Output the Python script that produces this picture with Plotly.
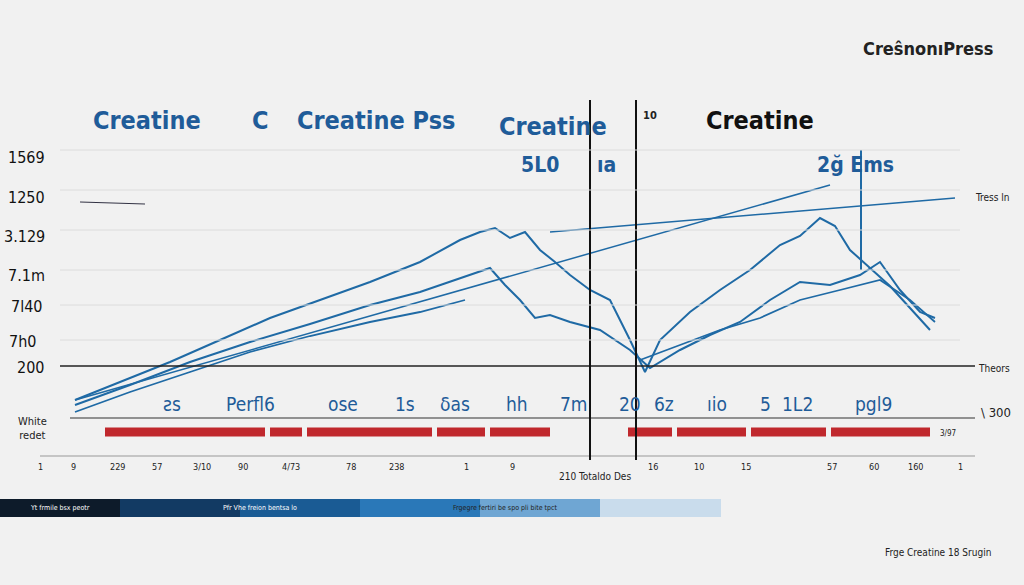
import plotly.graph_objects as go

# canvas-like coordinates (x: 0..1024, y: 0..585 downward)
trend_x = [75, 830]
trend_y = [400, 185]
trend2_x = [550, 955]
trend2_y = [232, 198]

a_x = [75, 120, 170, 220, 270, 320, 370, 420, 460, 480, 495, 510, 525, 540, 555, 570, 590, 610, 630, 645, 660, 690, 720, 750, 780, 800, 820, 835, 850, 870, 890, 910, 930]
a_y = [400, 382, 362, 340, 318, 300, 282, 262, 240, 232, 228, 238, 232, 250, 262, 275, 290, 300, 340, 372, 340, 312, 290, 270, 245, 236, 218, 226, 250, 268, 286, 308, 330]
b_x = [75, 130, 190, 250, 310, 370, 420, 460, 490, 505, 520, 535, 550, 570, 600, 630, 650, 680, 710, 740, 770, 800, 830, 860, 880, 900, 920, 935]
b_y = [405, 385, 362, 342, 324, 305, 292, 278, 268, 285, 300, 318, 315, 322, 330, 350, 368, 350, 335, 322, 300, 282, 285, 275, 262, 290, 312, 318]
c_x = [75, 130, 190, 250, 310, 370, 420, 465]
c_y = [412, 392, 372, 352, 336, 322, 312, 300]
d_x = [640, 680, 720, 760, 800, 840, 880, 910, 935]
d_y = [360, 345, 330, 318, 300, 290, 280, 300, 322]

red_segments = [(105, 265), (270, 302), (307, 432), (437, 485), (490, 550), (628, 672), (677, 746), (751, 826), (831, 930)]

top_labels = [("Creatine", 147, 120, 25, "#1f5c99"), ("C", 260, 120, 25, "#1f5c99"),
              ("Creatine Pss", 376, 120, 25, "#1f5c99"), ("Creatine", 553, 126, 25, "#1f5c99"),
              ("Creatine", 760, 120, 25, "#111111"), ("5L0", 540, 165, 21, "#1f5c99"),
              ("ıa", 606, 165, 21, "#1f5c99"), ("2ğ Ems", 855, 165, 21, "#1f5c99"),
              ("CreŝnonıPress", 928, 48, 18, "#222222"), ("10", 650, 115, 11, "#222222")]
left_labels = [("1569", 26, 157), ("1250", 26, 197), ("3.129", 24, 236), ("7.1m", 26, 275),
               ("7l40", 26, 306), ("7h0", 22, 341), ("200", 30, 367)]
mid_labels = [("ƨs", 172, 404), ("Perfl6", 250, 404), ("ose", 343, 404), ("1s", 405, 404),
              ("δas", 455, 404), ("hh", 517, 404), ("7m", 574, 404), ("20", 630, 404),
              ("6z", 664, 404), ("ıio", 717, 404), ("5", 765, 404), ("1L2", 797, 404), ("pgl9", 873, 404)]
tick_labels = [("1", 40, 467), ("9", 73, 467), ("229", 117, 467), ("57", 157, 467), ("3/10", 202, 467),
               ("90", 243, 467), ("4/73", 291, 467), ("78", 351, 467), ("238", 396, 467), ("1", 466, 467),
               ("9", 512, 467), ("16", 653, 467), ("10", 699, 467), ("15", 746, 467), ("57", 832, 467),
               ("60", 874, 467), ("160", 915, 467), ("1", 960, 467)]

FONT = "Liberation Sans Narrow, Arial Narrow, DejaVu Sans Condensed, sans-serif"

fig = go.Figure()
for sx, sy, w in [(trend_x, trend_y, 1.5), (trend2_x, trend2_y, 1.5), (a_x, a_y, 2), (b_x, b_y, 2), (c_x, c_y, 1.8), (d_x, d_y, 1.8)]:
    fig.add_trace(go.Scatter(x=sx, y=sy, mode="lines", line=dict(color="#1f6aa5", width=w), hoverinfo="skip"))
for x0, x1 in red_segments:
    fig.add_trace(go.Scatter(x=[x0, x1], y=[432, 432], mode="lines", line=dict(color="#c0282d", width=9), hoverinfo="skip"))
fig.add_trace(go.Scatter(x=[80, 145], y=[202, 204], mode="lines", line=dict(color="#334", width=1.2), hoverinfo="skip"))

shapes = [
    dict(type="line", x0=60, x1=975, y0=366, y1=366, line=dict(color="#222", width=1.5)),
    dict(type="line", x0=70, x1=975, y0=418, y1=418, line=dict(color="#333", width=1.2)),
    dict(type="line", x0=40, x1=975, y0=456, y1=456, line=dict(color="#999", width=1)),
    dict(type="line", x0=590, x1=590, y0=100, y1=460, line=dict(color="#111", width=2)),
    dict(type="line", x0=636, x1=636, y0=100, y1=460, line=dict(color="#111", width=2)),
    dict(type="line", x0=861, x1=861, y0=150, y1=270, line=dict(color="#1f6aa5", width=2)),
]
for y in [150, 190, 230, 270, 305, 340]:
    shapes.append(dict(type="line", x0=60, x1=960, y0=y, y1=y, line=dict(color="#dcdcdc", width=1)))
band = ["#0d1b2a", "#123a63", "#1a5b94", "#2a78b8", "#6fa6d3", "#c9dcec"]
for i, c in enumerate(band):
    shapes.append(dict(type="rect", x0=i * 120, x1=(i + 1) * 120 + 1, y0=499, y1=517, fillcolor=c, line=dict(width=0), layer="below"))

ann = []
for t, x, y, s, c in top_labels:
    ann.append(dict(text=f"<b>{t}</b>", x=x, y=y, font=dict(size=s, color=c, family=FONT), showarrow=False))
for t, x, y in left_labels:
    ann.append(dict(text=t, x=x, y=y, font=dict(size=16, color="#111", family=FONT), showarrow=False))
for t, x, y in mid_labels:
    ann.append(dict(text=t, x=x, y=y, font=dict(size=19, color="#1f5c99", family=FONT), showarrow=False))
for t, x, y in tick_labels:
    ann.append(dict(text=t, x=x, y=y, font=dict(size=9, color="#222", family=FONT), showarrow=False))
for t, x, y, s in [("Tress ln", 992, 197, 10), ("Theors", 994, 368, 10), ("\\ 300", 996, 412, 13),
                   ("White<br>redet", 32, 428, 11), ("3/97", 948, 433, 8), ("210 Totaldo Des", 595, 476, 10),
                   ("Frge Creatine 18 Srugin", 938, 552, 10), ("Yt frmile bsx peotr", 60, 508, 7),
                   ("Pfr Vhe freion bentsa lo", 260, 508, 7), ("Frgegre fertiri be spo pli bite tpct", 505, 508, 7)]:
    ann.append(dict(text=t, x=x, y=y, font=dict(size=s, family=FONT, color="#fff" if y == 508 and x < 300 else "#222"), showarrow=False))

fig.update_layout(
    width=1024, height=585, margin=dict(l=0, r=0, t=0, b=0), showlegend=False,
    paper_bgcolor="#f1f1f1", plot_bgcolor="#f1f1f1",
    xaxis=dict(range=[0, 1024], visible=False, fixedrange=True),
    yaxis=dict(range=[585, 0], visible=False, fixedrange=True),
    shapes=shapes, annotations=ann,
)
fig.write_html("out.html", config=dict(displayModeBar=False),
               post_script="document.body.style.margin='0';document.body.style.overflow='hidden';")
